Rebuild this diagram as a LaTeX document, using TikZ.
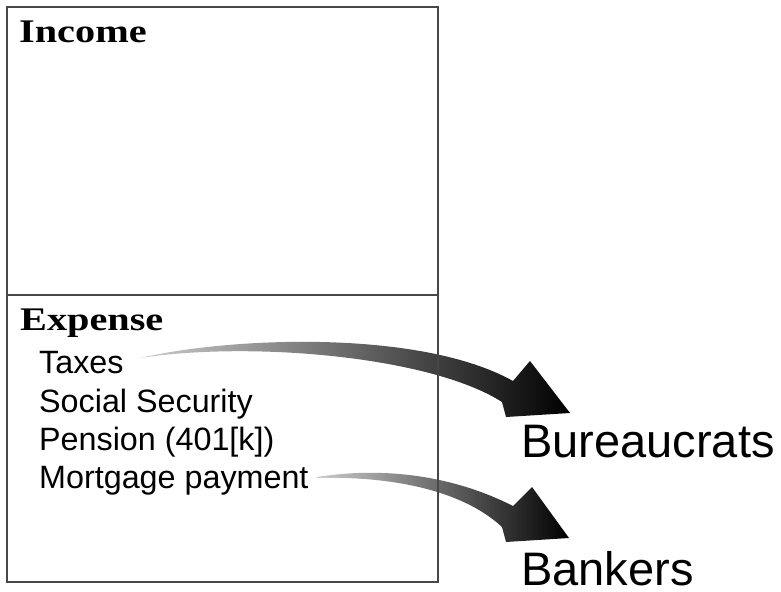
\documentclass[tikz,border=0pt]{standalone}
\usepackage{fontspec}
\newfontfamily\itemfont{Liberation Sans}
\newfontfamily\headfont[FakeStretch=1.22]{Liberation Serif}
\usetikzlibrary{shadings}
\begin{document}
\begin{tikzpicture}[x=1bp,y=-1bp,
  head/.style={anchor=base west,inner sep=0pt,font=\headfont\bfseries\fontsize{33bp}{36bp}\selectfont},
  item/.style={anchor=base west,inner sep=0pt,font=\itemfont\fontsize{32.3bp}{36bp}\selectfont},
  target/.style={anchor=base west,inner sep=0pt,text depth=0pt,font=\itemfont\fontsize{47bp}{50bp}\selectfont},
  fatarrow/.style={left color=black!20,middle color=black!55,right color=black,draw=none},
  frame/.style={draw=black!72,line width=1.6bp}]
\useasboundingbox (0,0) rectangle (781,592);
% arrows
\shade[fatarrow] (140,358) .. controls (230,337) and (420,329) .. (513,381)
  -- (530,361) -- (570,413) -- (506,417) -- (502,402)
  .. controls (430,356) and (250,341) .. (140,358) -- cycle;
\shade[fatarrow] (317,477) .. controls (380,467) and (450,474) .. (513,506)
  -- (532,487) -- (569,538) -- (506,542) -- (502,527)
  .. controls (460,488) and (385,476) .. (317,478) -- cycle;
% frame
\draw[frame] (7,7) rectangle (438,582);
\draw[frame] (7,295) -- (438,295);
% texts
\node[head] (income) at (19,43) {Income};
\node[head] (expense) at (20,330) {Expense};
\node[item] (taxes) at (39,373) {Taxes};
\node[item] (ss) at (39,412) {Social Security};
\node[item] (pension) at (39,450) {Pension (401[k])};
\node[item] (mortgage) at (39,488) {Mortgage payment};
\node[target] (bureau) at (521,457) {Bureaucrats};
\node[target] (bankers) at (521,585) {Bankers};
\end{tikzpicture}
\end{document}
